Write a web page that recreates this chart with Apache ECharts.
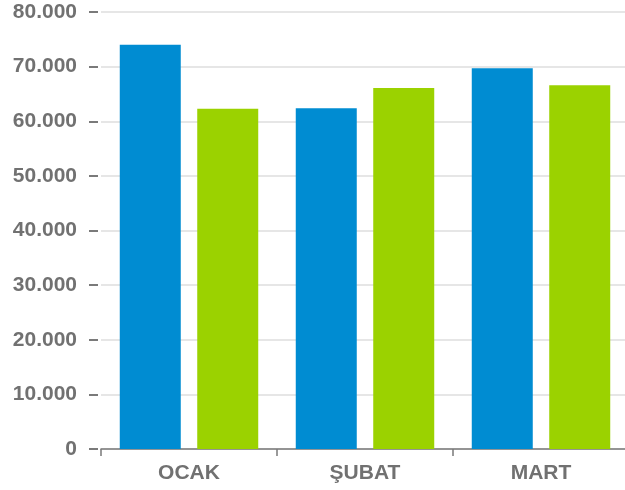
<!DOCTYPE html>
<html><head><meta charset="utf-8">
<script src="https://cdn.jsdelivr.net/npm/echarts@6/dist/echarts.min.js"></script>
<style>html,body{margin:0;padding:0;background:#fff}#c{width:625px;height:490px}</style>
</head><body><div id="c"></div>
<script>
const categories = ['OCAK', 'ŞUBAT', 'MART'];
const seriesA = [74000, 62400, 69700];
const seriesB = [62300, 66100, 66600];
const yTicks = { min: 0, max: 80000, interval: 10000 };

function fmt(v) {
  return String(Math.round(v)).replace(/\B(?=(\d{3})+(?!\d))/g, '.');
}
const chart = echarts.init(document.getElementById('c'));
chart.setOption({
  animation: false,
  grid: { left: 101, top: 12, bottom: 41, width: 528, outerBoundsMode: 'none', containLabel: false },
  xAxis: {
    type: 'category', data: categories,
    axisLine: { lineStyle: { color: '#7a7a7a', width: 1.5 } },
    axisTick: { show: true, length: 7, lineStyle: { color: '#7a7a7a', width: 1.5 } },
    axisLabel: { margin: 14, color: '#717171', fontFamily: 'Liberation Sans', fontWeight: 'bold', fontSize: 21 }
  },
  yAxis: {
    type: 'value', min: yTicks.min, max: yTicks.max, interval: yTicks.interval,
    offset: 3,
    axisLine: { show: false },
    axisTick: { show: true, length: 9, lineStyle: { color: '#7a7a7a', width: 2 } },
    splitLine: { lineStyle: { color: '#e6e6e6', width: 2 } },
    axisLabel: { margin: 21, formatter: fmt, color: '#717171', fontFamily: 'Liberation Sans', fontWeight: 'bold', fontSize: 21 }
  },
  series: [
    { type: 'bar', data: seriesA, barWidth: 61, barGap: '27%', itemStyle: { color: '#008cd2' } },
    { type: 'bar', data: seriesB, barWidth: 61, itemStyle: { color: '#9bd200' } }
  ]
});
</script></body></html>
